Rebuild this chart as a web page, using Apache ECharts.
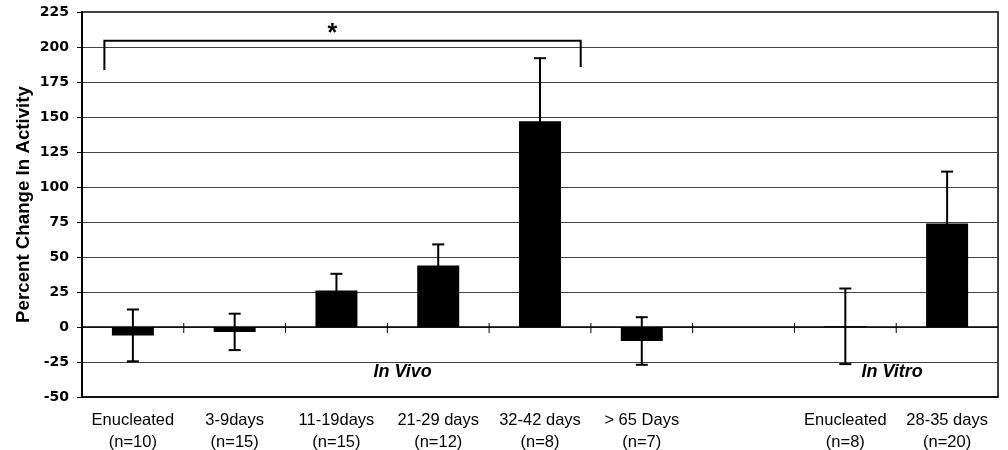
<!DOCTYPE html>
<html>
<head>
<meta charset="utf-8">
<script src="https://cdn.jsdelivr.net/npm/echarts@6/dist/echarts.min.js"></script>
<style>
  html, body { margin: 0; padding: 0; background: #fff; }
  #chart { width: 1008px; height: 450px; }
</style>
</head>
<body>
<div id="chart"></div>
<script>
// Groups along the x axis (the blank slot separates in vivo from in vitro)
const categories = ['Enucleated', '3-9days', '11-19days', '21-29 days', '32-42 days', '> 65 Days', '', 'Enucleated', '28-35 days'];
const sampleSizes = ['(n=10)', '(n=15)', '(n=15)', '(n=12)', '(n=8)', '(n=7)', '', '(n=8)', '(n=20)'];

// Mean percent change in activity and the error-bar half length
const meanChange = [-6, -3.5, 26, 44, 147, -10, null, 0.5, 74];
const errorSize  = [18.5, 13, 12, 15, 45, 17, null, 27, 37];

// Value axis range
const yMin = -50, yMax = 225, yStep = 25;

// Significance bracket (x in category units, y in percent)
const bracketX = [-0.28, 4.40];
const bracketY = 204.5;
const bracketFootY = [183.6, 185.7];
const starAt = [1.96, 209.5];

// Group captions
const groupLabels = ['In Vivo', 'In Vitro'];
const groupLabelAt = [[2.65, -32.5], [7.46, -32]];

const TEXT = '#000';
const ARIAL = '"Liberation Sans", Arial, sans-serif';

const chart = echarts.init(document.getElementById('chart'), null, { renderer: 'canvas' });

const errorData = [];
meanChange.forEach((m, i) => { if (m !== null) errorData.push([i, m, errorSize[i]]); });

const lastIdx = categories.length - 1;

chart.setOption({
  animation: false,
  backgroundColor: '#fff',
  grid: {
    left: 82, right: 10, top: 12, bottom: 53,
    show: true, borderColor: '#000', borderWidth: 1.5,
    outerBoundsMode: 'none'
  },
  xAxis: [
    {
      type: 'category',
      data: categories,
      position: 'bottom',
      axisLine: { onZero: false, lineStyle: { color: '#000', width: 1.5 } },
      axisTick: { show: false },
      splitLine: { show: false },
      axisLabel: {
        interval: 0,
        margin: 12,
        color: TEXT,
        fontFamily: ARIAL,
        fontSize: 16.5,
        lineHeight: 22.5,
        formatter: (v, i) => v + '\n' + sampleSizes[i]
      }
    },
    {
      // linear helper axis spanning the same width, centre of category i at i
      type: 'value',
      position: 'top',
      min: -0.5,
      max: lastIdx + 0.5,
      show: false
    }
  ],
  yAxis: {
    type: 'value',
    min: yMin, max: yMax, interval: yStep,
    name: 'Percent Change In Activity',
    nameLocation: 'middle',
    nameGap: 49,
    nameMoveOverlap: false,
    nameTextStyle: { color: TEXT, fontFamily: ARIAL, fontWeight: 'bold', fontSize: 18.7 },
    axisLine: { show: true, onZero: false, lineStyle: { color: '#000', width: 2 } },
    axisTick: { show: true, length: 5, lineStyle: { color: '#000', width: 1 } },
    axisLabel: { margin: 13, color: TEXT, fontFamily: '"DejaVu Sans", sans-serif', fontWeight: 'bold', fontSize: 14 },
    splitLine: { lineStyle: { color: '#444', width: 1 } }
  },
  series: [
    {
      // zero baseline with tick marks crossing it at each category boundary
      type: 'custom',
      xAxisIndex: 1,
      z: 2,
      silent: true,
      data: [[0]],
      renderItem: (params, api) => {
        const a = api.coord([-0.5, 0]);
        const b = api.coord([lastIdx + 0.5, 0]);
        const kids = [{ type: 'line', shape: { x1: a[0], y1: a[1], x2: b[0], y2: b[1] }, style: { stroke: '#000', lineWidth: 1.5 } }];
        for (let k = 0; k < lastIdx; k++) {
          const p = api.coord([k + 0.5, 0]);
          kids.push({ type: 'line', shape: { x1: p[0], y1: p[1] - 4, x2: p[0], y2: p[1] + 6 }, style: { stroke: '#000', lineWidth: 1 } });
        }
        return { type: 'group', children: kids };
      }
    },
    {
      type: 'bar',
      xAxisIndex: 0,
      data: meanChange,
      barWidth: 42,
      itemStyle: { color: '#000' },
      z: 3
    },
    {
      // error bars
      type: 'custom',
      xAxisIndex: 0,
      z: 4,
      silent: true,
      data: errorData,
      renderItem: (params, api) => {
        const i = api.value(0), m = api.value(1), e = api.value(2);
        const top = api.coord([i, m + e]);
        const bot = api.coord([i, m - e]);
        const half = 6;
        const st = { stroke: '#000', lineWidth: 2 };
        return {
          type: 'group',
          children: [
            { type: 'line', shape: { x1: top[0], y1: top[1], x2: bot[0], y2: bot[1] }, style: st },
            { type: 'line', shape: { x1: top[0] - half, y1: top[1], x2: top[0] + half, y2: top[1] }, style: st },
            { type: 'line', shape: { x1: bot[0] - half, y1: bot[1], x2: bot[0] + half, y2: bot[1] }, style: st }
          ]
        };
      }
    },
    {
      // significance bracket, asterisk and group captions
      type: 'custom',
      xAxisIndex: 1,
      z: 5,
      silent: true,
      data: [[0]],
      renderItem: (params, api) => {
        const l = api.coord([bracketX[0], bracketY]);
        const r = api.coord([bracketX[1], bracketY]);
        const lf = api.coord([bracketX[0], bracketFootY[0]]);
        const rf = api.coord([bracketX[1], bracketFootY[1]]);
        const s = api.coord(starAt);
        const kids = [
          { type: 'polyline', shape: { points: [lf, l, r, rf] }, style: { stroke: '#000', lineWidth: 2, fill: null } },
          { type: 'text', x: s[0], y: s[1], style: { text: '*', fill: TEXT, fontFamily: ARIAL, fontWeight: 'bold', fontSize: 25, align: 'center', verticalAlign: 'middle' } }
        ];
        groupLabels.forEach((t, k) => {
          const p = api.coord(groupLabelAt[k]);
          kids.push({ type: 'text', x: p[0], y: p[1], style: { text: t, fill: TEXT, fontFamily: ARIAL, fontWeight: 'bold', fontStyle: 'italic', fontSize: 18, align: 'center', verticalAlign: 'middle' } });
        });
        return { type: 'group', children: kids };
      }
    }
  ]
});
</script>
</body>
</html>
